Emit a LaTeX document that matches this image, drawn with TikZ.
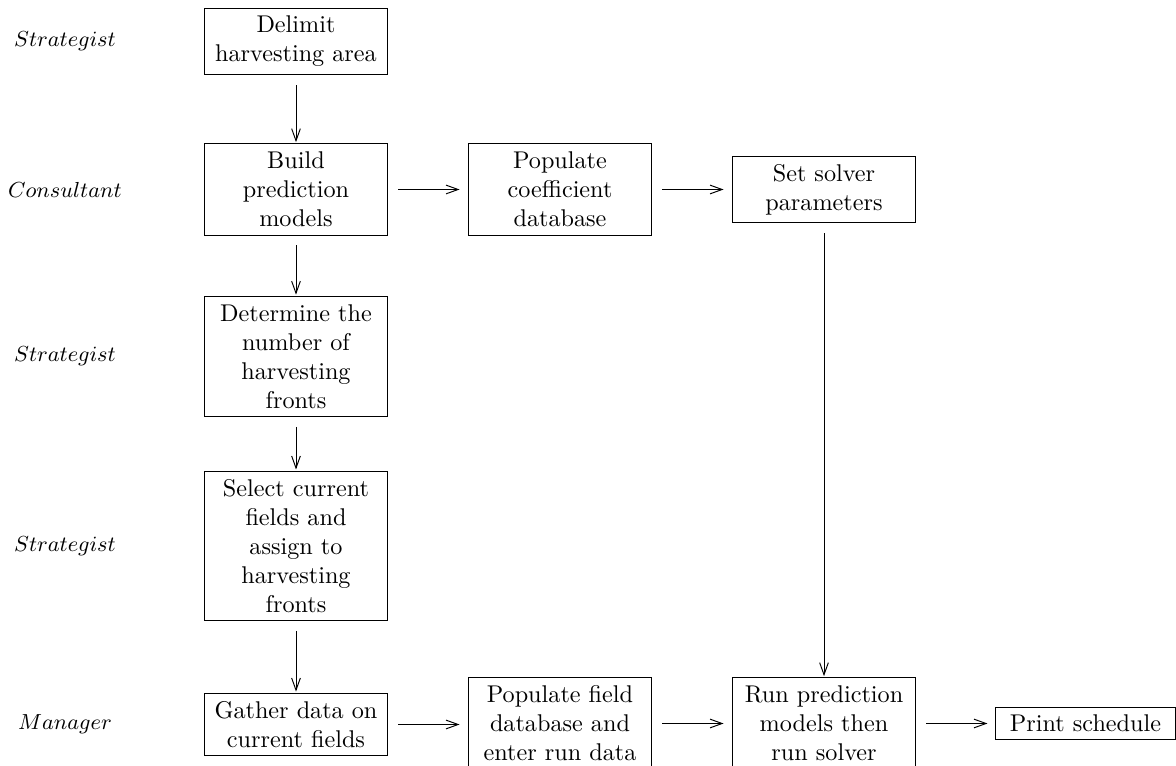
\documentclass[tikz,border=0pt]{standalone}
\usetikzlibrary{arrows.meta}
\hyphenpenalty=10000
\exhyphenpenalty=10000
\begin{document}
\begin{tikzpicture}[x=0.4132pt,y=-0.4132pt,
  box/.style={draw,align=flush center,text width=69pt,inner xsep=3.5pt,inner ysep=3.33pt,
    execute at begin node={\hyphenpenalty=10000\relax}},
  role/.style={font=\small},
  arr/.style={-{Straight Barb[length=5pt,width=3.6pt]},shorten <=4pt},
  varr/.style={arr,shorten >=0.5pt},
  harr/.style={arr,shorten >=3.3pt}]
\useasboundingbox (0,0) rectangle (1176,766);
% roles
\node[role] (r1) at (65,41.5) {$Strategist$};
\node[role] (r2) at (65,189.5) {$Consultant$};
\node[role] (r3) at (65,356.5) {$Strategist$};
\node[role] (r4) at (65,546) {$Strategist$};
\node[role] (r5) at (65,724.5) {$Manager$};
% boxes
\node[box] (delimit) at (296,41.5) {Delimit harvesting area};
\node[box] (build) at (296,189.5) {Build prediction models};
\node[box] (coef) at (560,189.5) {Populate coefficient database};
\node[box] (solver) at (824,189.5) {Set solver parameters};
\node[box] (determine) at (296,356.5) {Determine the number of harvesting fronts};
\node[box] (select) at (296,546) {Select current fields and assign to harvesting fronts};
\node[box] (gather) at (296,724.5) {Gather data on current fields};
\node[box] (field) at (560,723.5) {Populate field database and enter run data};
\node[box] (run) at (824,723.5) {Run prediction models then run solver};
\node[draw,minimum width=74pt,minimum height=13.6pt,inner sep=0pt] (print) at (1085.5,723.5) {Print schedule};
% arrows
\draw[varr] (delimit) -- (build);
\draw[varr] (build) -- (determine);
\draw[varr] (determine) -- (select);
\draw[varr] (select) -- (gather);
\draw[varr] (solver) -- (run);
\draw[harr] (build) -- (coef);
\draw[harr] (coef) -- (solver);
\draw[harr] (gather.east) -- (field.west |- gather.east);
\draw[harr] (field) -- (run);
\draw[harr] (run) -- (print);
\end{tikzpicture}
\end{document}
